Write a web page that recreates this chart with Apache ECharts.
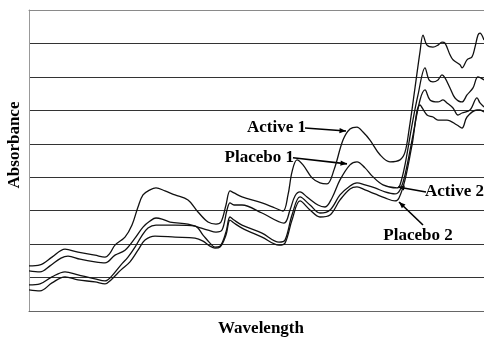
<!DOCTYPE html>
<html>
<head>
<meta charset="utf-8">
<script src="https://cdn.jsdelivr.net/npm/echarts@6/dist/echarts.min.js"></script>
<style>
  html, body { margin: 0; padding: 0; background: #fff; }
  #chart { width: 484px; height: 337px; }
</style>
</head>
<body>
<div id="chart"></div>
<script>
// NIR absorbance spectra: wavelength (nm) and absorbance pairs per sample
const active1 = [
  [1000,0.135],[1022,0.138],[1046,0.161],[1072,0.185],[1098,0.176],[1132,0.167],[1152,0.161],
  [1162,0.173],[1172,0.197],[1192,0.221],[1206,0.257],[1218,0.311],[1228,0.347],[1242,0.362],
  [1254,0.368],[1272,0.359],[1292,0.347],[1318,0.332],[1338,0.296],[1358,0.266],[1374,0.260],
  [1384,0.266],[1394,0.317],[1402,0.359],[1410,0.353],[1426,0.341],[1466,0.323],[1492,0.308],
  [1508,0.299],[1518,0.347],[1526,0.416],[1536,0.452],[1548,0.437],[1566,0.398],[1582,0.383],
  [1596,0.380],[1610,0.422],[1628,0.511],[1642,0.544],[1656,0.550],[1668,0.535],[1682,0.511],
  [1702,0.467],[1722,0.446],[1742,0.452],[1752,0.475],[1760,0.541],[1772,0.667],[1782,0.775],
  [1788,0.825],[1796,0.795],[1808,0.789],[1818,0.795],[1826,0.804],[1832,0.801],[1842,0.766],
  [1848,0.751],[1862,0.736],[1866,0.727],[1876,0.751],[1886,0.760],[1892,0.789],[1898,0.825],
  [1902,0.831],[1910,0.810]
];
const placebo1 = [
  [1000,0.120],[1022,0.117],[1042,0.135],[1064,0.158],[1078,0.164],[1102,0.155],[1132,0.147],
  [1152,0.144],[1172,0.167],[1192,0.182],[1212,0.218],[1228,0.251],[1242,0.269],[1254,0.278],
  [1266,0.275],[1282,0.266],[1318,0.260],[1338,0.251],[1358,0.242],[1374,0.236],[1386,0.242],
  [1396,0.302],[1402,0.323],[1410,0.317],[1426,0.317],[1466,0.293],[1510,0.263],[1522,0.302],
  [1532,0.344],[1542,0.356],[1556,0.341],[1578,0.317],[1592,0.311],[1606,0.338],[1622,0.392],
  [1642,0.437],[1656,0.446],[1672,0.428],[1686,0.404],[1708,0.377],[1736,0.368],[1742,0.377],
  [1752,0.437],[1766,0.556],[1778,0.646],[1792,0.727],[1800,0.691],[1808,0.685],[1818,0.691],
  [1826,0.706],[1832,0.697],[1842,0.667],[1852,0.637],[1866,0.625],[1876,0.646],[1888,0.667],
  [1898,0.700],[1910,0.691]
];
const active2 = [
  [1000,0.078],[1022,0.081],[1046,0.102],[1072,0.117],[1098,0.108],[1132,0.096],[1152,0.090],
  [1164,0.102],[1184,0.138],[1198,0.161],[1212,0.191],[1224,0.221],[1238,0.248],[1254,0.257],
  [1292,0.257],[1332,0.254],[1348,0.227],[1362,0.203],[1372,0.191],[1382,0.194],[1394,0.236],
  [1402,0.281],[1410,0.272],[1426,0.257],[1466,0.233],[1500,0.206],[1512,0.212],[1526,0.287],
  [1542,0.341],[1562,0.317],[1582,0.293],[1602,0.302],[1622,0.347],[1642,0.374],[1656,0.383],
  [1672,0.377],[1692,0.368],[1712,0.356],[1732,0.350],[1742,0.362],[1752,0.407],[1768,0.526],
  [1782,0.631],[1792,0.661],[1802,0.631],[1818,0.625],[1828,0.631],[1836,0.622],[1848,0.607],
  [1858,0.586],[1866,0.592],[1882,0.601],[1896,0.637],[1902,0.622],[1910,0.610]
];
const placebo2 = [
  [1000,0.063],[1022,0.060],[1046,0.084],[1072,0.102],[1098,0.093],[1132,0.087],[1152,0.081],
  [1164,0.093],[1184,0.123],[1202,0.147],[1218,0.182],[1232,0.212],[1252,0.224],[1292,0.221],
  [1332,0.218],[1348,0.209],[1362,0.194],[1372,0.188],[1382,0.191],[1394,0.227],[1402,0.272],
  [1410,0.263],[1426,0.248],[1466,0.221],[1500,0.197],[1512,0.203],[1526,0.272],[1542,0.329],
  [1562,0.302],[1582,0.281],[1602,0.287],[1622,0.332],[1642,0.365],[1656,0.371],[1672,0.362],
  [1692,0.350],[1712,0.338],[1732,0.329],[1740,0.338],[1752,0.392],[1766,0.496],[1782,0.616],
  [1796,0.586],[1808,0.580],[1818,0.571],[1836,0.571],[1856,0.556],[1866,0.547],[1876,0.580],
  [1896,0.601],[1902,0.601],[1910,0.595]
];

const seriesNames = ['Active 1', 'Placebo 1', 'Active 2', 'Placebo 2'];
const seriesData = [active1, placebo1, active2, placebo2];

// callouts: label text, arrow tail and arrow head in data space
const callouts = [
  { text: 'Active 1',  tail: [1552, 0.547], head: [1634, 0.538], align: 'right' },
  { text: 'Placebo 1', tail: [1528, 0.458], head: [1636, 0.440], align: 'right' },
  { text: 'Active 2',  tail: [1794, 0.356], head: [1738, 0.371], align: 'left' },
  { text: 'Placebo 2', tail: [1788, 0.257], head: [1740, 0.326], align: 'below' }
];

const chart = echarts.init(document.getElementById('chart'));
const FONT = '"Liberation Serif", "DejaVu Serif", serif';

chart.setOption({
  animation: false,
  backgroundColor: '#fff',
  grid: { left: 29, right: 0, top: 10, bottom: 26 },
  xAxis: [{
    type: 'value', min: 1000, max: 1910,
    axisLine: { show: true, lineStyle: { color: '#666', width: 1 } },
    axisTick: { show: false }, axisLabel: { show: false }, splitLine: { show: false }
  }, {
    // top frame edge, drawn lighter than the inner gridlines
    type: 'value', position: 'top', min: 1000, max: 1910,
    axisLine: { show: true, lineStyle: { color: '#8a8a8a', width: 1 } },
    axisTick: { show: false }, axisLabel: { show: false }, splitLine: { show: false }
  }],
  yAxis: {
    type: 'value', min: 0, max: 0.9, interval: 0.1,
    axisLine: { show: true, lineStyle: { color: '#999', width: 1 } },
    axisTick: { show: false }, axisLabel: { show: false },
    splitLine: { show: true, lineStyle: { color: '#333', width: 1 } }
  },
  series: seriesData.map((d, i) => ({
    name: seriesNames[i], type: 'line', data: d, symbol: 'none', smooth: 0.35,
    lineStyle: { color: '#111', width: 1.3 }
  }))
});

function arrowGraphics() {
  const g = [];
  callouts.forEach(c => {
    const t = chart.convertToPixel({ gridIndex: 0 }, c.tail);
    const h = chart.convertToPixel({ gridIndex: 0 }, c.head);
    const ang = Math.atan2(h[1] - t[1], h[0] - t[0]);
    const len = 7, spread = 0.38;
    g.push({ type: 'line', shape: { x1: t[0], y1: t[1], x2: h[0], y2: h[1] },
      style: { stroke: '#000', lineWidth: 1.6 } });
    g.push({ type: 'polygon', shape: { points: [
      [h[0], h[1]],
      [h[0] - len * Math.cos(ang - spread), h[1] - len * Math.sin(ang - spread)],
      [h[0] - len * Math.cos(ang + spread), h[1] - len * Math.sin(ang + spread)]
    ] }, style: { fill: '#000' } });
    let tx = t[0], ty = t[1], ta = 'right';
    if (c.align === 'left') { tx = t[0] - 1; ta = 'left'; }
    if (c.align === 'right') { tx = t[0] + 1; ta = 'right'; }
    if (c.align === 'below') { tx = t[0] - 5; ty = t[1] + 11; ta = 'center'; }
    g.push({ type: 'text', x: tx, y: ty, style: {
      text: c.text, fill: '#000', font: 'bold 17px ' + FONT, align: ta, verticalAlign: 'middle' } });
  });
  g.push({ type: 'text', x: 15, y: 145, rotation: Math.PI / 2, style: {
    text: 'Absorbance', fill: '#000', font: 'bold 17px ' + FONT, align: 'center', verticalAlign: 'middle' } });
  g.push({ type: 'text', x: 261, y: 329, style: {
    text: 'Wavelength', fill: '#000', font: 'bold 17px ' + FONT, align: 'center', verticalAlign: 'middle' } });
  return g;
}

chart.setOption({ graphic: arrowGraphics() });
</script>
</body>
</html>
